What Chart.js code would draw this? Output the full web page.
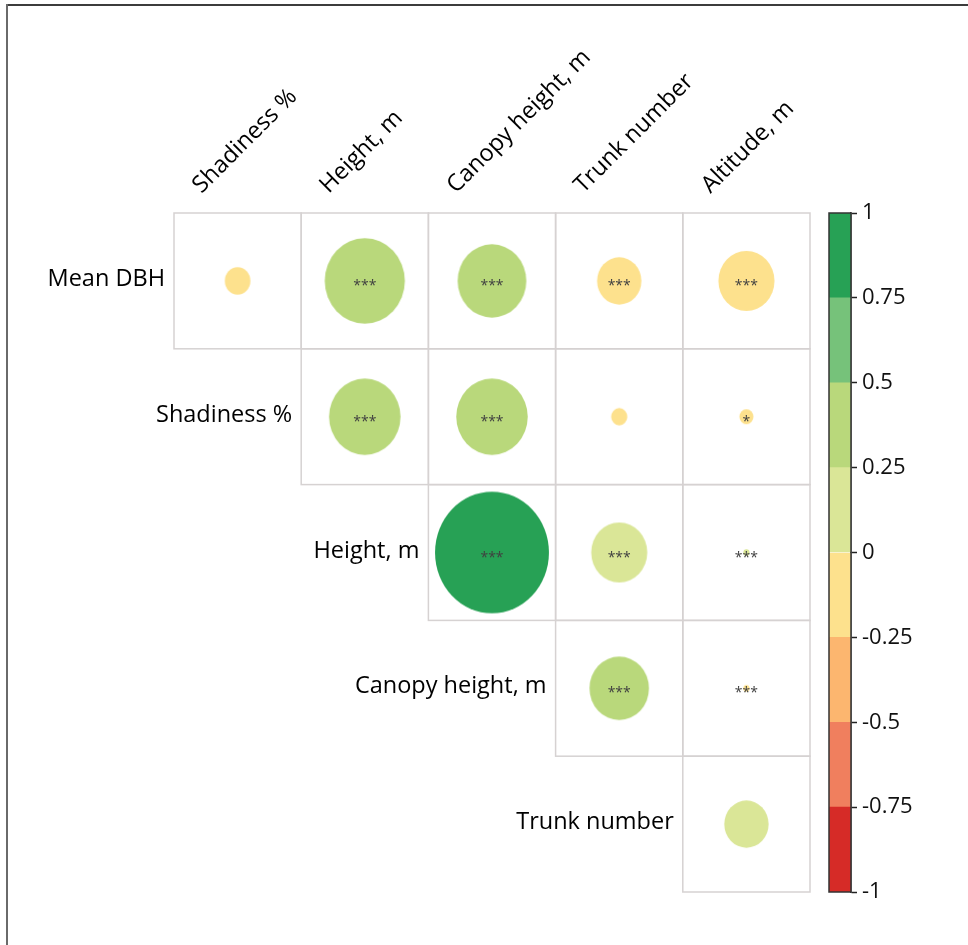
<!DOCTYPE html>
<html>
<head>
<meta charset="utf-8">
<script src="https://cdn.jsdelivr.net/npm/chart.js@4.4.1/dist/chart.umd.min.js"></script>
<style>
  body { margin: 0; background: #fff; }
  #wrap { position: relative; width: 968px; height: 945px; overflow: hidden; }
  #frameTop { position: absolute; left: 6px; top: 4px; width: 962px; height: 2px; background: #3c3c3c; }
  #frameLeft { position: absolute; left: 6px; top: 4px; width: 2px; height: 941px; background: #6a6a6a; }
  #corr { position: absolute; left: 0; top: 0; }
  #legendBar { position: absolute; left: 800px; top: 190px; }
</style>
</head>
<body>
<div id="wrap">
  <canvas id="corr" width="968" height="945"></canvas>
  <canvas id="legendBar" width="168" height="730"></canvas>
  <div id="frameTop"></div>
  <div id="frameLeft"></div>
</div>
<script>
// variables
const rowLabels = ['Mean DBH', 'Shadiness %', 'Height, m', 'Canopy height, m', 'Trunk number'];
const colLabels = ['Shadiness %', 'Height, m', 'Canopy height, m', 'Trunk number', 'Altitude, m'];

// correlation coefficients (upper triangle, null = empty)
const corrMeanDBH  = [-0.05, 0.49, 0.36, -0.15, -0.24];
const corrShadines = [null, 0.39, 0.39, -0.02, -0.015];
const corrHeight   = [null, null, 0.99, 0.24, 0.003];
const corrCanopy   = [null, null, null, 0.27, -0.003];
const corrTrunk    = [null, null, null, null, 0.15];
const corrRows = [corrMeanDBH, corrShadines, corrHeight, corrCanopy, corrTrunk];

// significance stars
const sigMeanDBH  = ['', '***', '***', '***', '***'];
const sigShadines = ['', '***', '***', '', '*'];
const sigHeight   = ['', '', '***', '***', '***'];
const sigCanopy   = ['', '', '', '***', '***'];
const sigTrunk    = ['', '', '', '', ''];
const sigRows = [sigMeanDBH, sigShadines, sigHeight, sigCanopy, sigTrunk];

// colour scale
const binEdges = [-1, -0.75, -0.5, -0.25, 0, 0.25, 0.5, 0.75, 1];
const binColors = ['#d62b27', '#f07f5e', '#fcb66f', '#fde18d', '#dae697', '#b9d87b', '#76c27a', '#27a155'];
const tickValues = [-1, -0.75, -0.5, -0.25, 0, 0.25, 0.5, 0.75, 1];

const FONT = "'Open Sans', 'Noto Sans', sans-serif";

function colorFor(r) {
    let i = Math.floor((r + 1) / 0.25);
    if (i < 0) i = 0;
    if (i > 7) i = 7;
    return binColors[i];
}

// build points
const points = [];
corrRows.forEach(function(row, i) {
    row.forEach(function(r, j) {
        if (r !== null) points.push({ x: j, y: i, r: r, sig: sigRows[i][j] });
    });
});

// ellipse canvas used as point style, sized from the scales
function ellipseStyle(context) {
    const p = context.raw;
    const sx = context.chart.scales.x;
    const sy = context.chart.scales.y;
    if (!p || !sx || !sy) return 'circle';
    const cw = Math.abs(sx.getPixelForValue(1) - sx.getPixelForValue(0));
    const ch = Math.abs(sy.getPixelForValue(1) - sy.getPixelForValue(0));
    const k = 0.9 * Math.sqrt(Math.abs(p.r));
    const w = Math.max(k * cw, 1), h = Math.max(k * ch, 1);
    const c = document.createElement('canvas');
    c.width = Math.ceil(w) + 2;
    c.height = Math.ceil(h) + 2;
    const g = c.getContext('2d');
    g.fillStyle = colorFor(p.r);
    g.beginPath();
    g.ellipse(c.width / 2, c.height / 2, w / 2, h / 2, 0, 0, Math.PI * 2);
    g.fill();
    return c;
}

const gridPlugin = {
    id: 'gridPlugin',
    beforeDatasetsDraw(chart) {
        const ctx = chart.ctx, sx = chart.scales.x, sy = chart.scales.y;
        ctx.save();
        ctx.strokeStyle = '#d6d2d2';
        ctx.lineWidth = 1.5;
        corrRows.forEach(function(row, i) {
            row.forEach(function(r, j) {
                if (r === null) return;
                const x0 = sx.getPixelForValue(j - 0.5), x1 = sx.getPixelForValue(j + 0.5);
                const y0 = sy.getPixelForValue(i - 0.5), y1 = sy.getPixelForValue(i + 0.5);
                ctx.strokeRect(x0, y0, x1 - x0, y1 - y0);
            });
        });
        ctx.restore();
    },
    afterDatasetsDraw(chart) {
        const ctx = chart.ctx, sx = chart.scales.x, sy = chart.scales.y;
        const meta = chart.getDatasetMeta(0);
        ctx.save();
        // stars
        ctx.fillStyle = '#404040';
        ctx.font = '14px ' + FONT;
        ctx.textAlign = 'center';
        ctx.textBaseline = 'alphabetic';
        meta.data.forEach(function(el, k) {
            const s = points[k].sig;
            if (s) ctx.fillText(s, el.x, el.y + 9);
        });
        // row labels
        ctx.fillStyle = '#000';
        ctx.font = '23.5px ' + FONT;
        ctx.textAlign = 'right';
        rowLabels.forEach(function(lab, i) {
            ctx.fillText(lab, sx.getPixelForValue(i - 0.5) - 9, sy.getPixelForValue(i) + 5);
        });
        // column labels, rotated
        ctx.textAlign = 'left';
        colLabels.forEach(function(lab, j) {
            ctx.save();
            ctx.translate(sx.getPixelForValue(j) - 36, 194);
            ctx.rotate(-Math.PI / 4);
            ctx.fillText(lab, 0, 0);
            ctx.restore();
        });
        ctx.restore();
    }
};

new Chart(document.getElementById('corr'), {
    type: 'scatter',
    data: {
        datasets: [{
            data: points,
            pointStyle: ellipseStyle,
            radius: 1,
            hoverRadius: 1
        }]
    },
    options: {
        responsive: false,
        animation: false,
        devicePixelRatio: 1,
        layout: { padding: { left: 174, right: 158, top: 213, bottom: 53 } },
        scales: {
            x: { type: 'linear', min: -0.5, max: 4.5, display: false },
            y: { type: 'linear', min: -0.5, max: 4.5, reverse: true, display: false }
        },
        plugins: { legend: { display: false }, tooltip: { enabled: false } }
    },
    plugins: [gridPlugin]
});

// colour bar
const outlinePlugin = {
    id: 'outlinePlugin',
    afterDatasetsDraw(chart) {
        const a = chart.chartArea, ctx = chart.ctx;
        ctx.save();
        ctx.strokeStyle = '#333';
        ctx.lineWidth = 1.5;
        ctx.strokeRect(a.left, a.top, a.right - a.left, a.bottom - a.top);
        ctx.restore();
    }
};

new Chart(document.getElementById('legendBar'), {
    type: 'bar',
    data: {
        labels: [''],
        datasets: binColors.map(function(col, i) {
            return {
                data: [[binEdges[i], binEdges[i + 1]]],
                backgroundColor: col,
                borderWidth: 0,
                barPercentage: 1,
                categoryPercentage: 1,
                grouped: false
            };
        })
    },
    options: {
        responsive: false,
        animation: false,
        devicePixelRatio: 1,
        layout: { padding: { left: 29, top: 23, bottom: 28, right: 0 } },
        scales: {
            x: { display: false },
            y: {
                position: 'right',
                min: -1,
                max: 1,
                afterBuildTicks: function(scale) {
                    scale.ticks = tickValues.map(function(v) { return { value: v }; });
                },
                afterFit: function(scale) { scale.width = 117; },
                ticks: {
                    font: { family: FONT, size: 22 },
                    color: '#111',
                    padding: 5,
                    callback: function(v) { return String(v); }
                },
                grid: { drawOnChartArea: false, tickLength: 6, tickColor: '#222', tickWidth: 1.5 },
                border: { display: true, color: '#333', width: 1.5 }
            }
        },
        plugins: { legend: { display: false }, tooltip: { enabled: false } }
    },
    plugins: [outlinePlugin]
});
</script>
</body>
</html>
